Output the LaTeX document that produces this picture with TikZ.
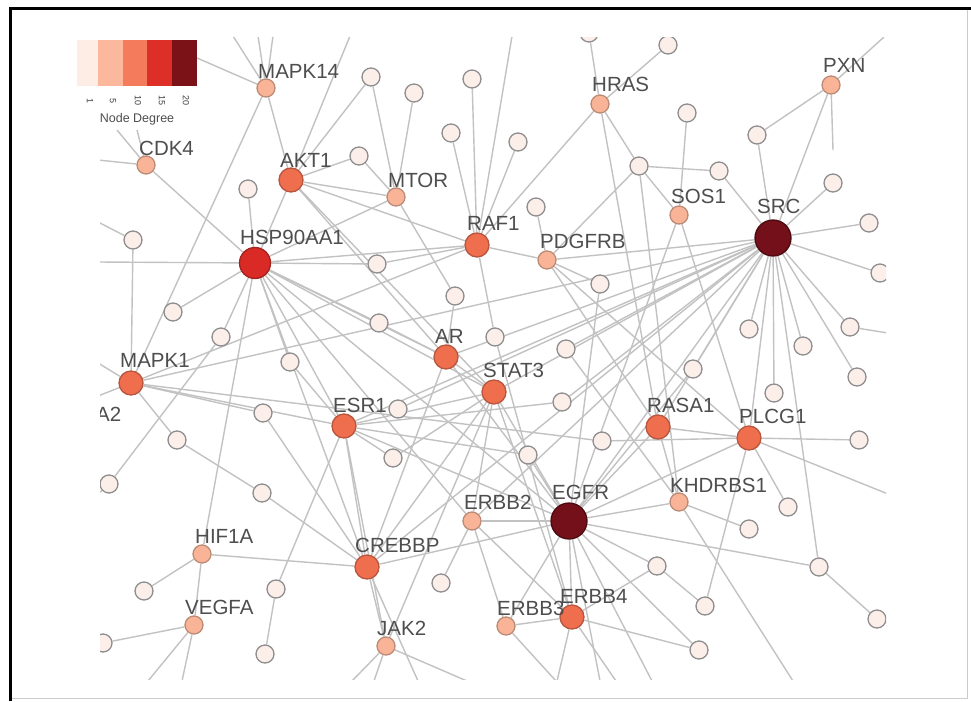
\documentclass[tikz,border=0pt]{standalone}
\usepackage{fontspec}
\setmainfont{Liberation Sans}
\usetikzlibrary{backgrounds}
\definecolor{edgec}{HTML}{C2C2C2}
\definecolor{cw}{HTML}{FCEFEA}
\definecolor{cwb}{HTML}{8E8E8E}
\definecolor{cs}{HTML}{F9B497}
\definecolor{csb}{HTML}{BC8B77}
\definecolor{co}{HTML}{EF6E4E}
\definecolor{cob}{HTML}{B8553F}
\definecolor{cr}{HTML}{DA2A25}
\definecolor{crb}{HTML}{A02320}
\definecolor{cd}{HTML}{741019}
\definecolor{cdb}{HTML}{4A0A0F}
\definecolor{lblc}{HTML}{4E4E4E}
\definecolor{legA}{HTML}{FDEDE5}
\definecolor{legB}{HTML}{FBB89D}
\definecolor{legC}{HTML}{F47B5B}
\definecolor{legD}{HTML}{DD2F28}
\definecolor{legE}{HTML}{7A1218}
\begin{document}
\begin{tikzpicture}[x=1pt,y=-1pt,
  edge/.style={draw=edgec, line width=1.4pt},
  nd/.style={circle, line width=1.3pt, inner sep=0pt},
  nodeW/.style={nd, minimum size=18pt, fill=cw, draw=cwb},
  nodeS/.style={nd, minimum size=18pt, fill=cs, draw=csb},
  nodeO/.style={nd, minimum size=24pt, fill=co, draw=cob},
  nodeR/.style={nd, minimum size=31pt, fill=cr, draw=crb},
  nodeD/.style={nd, minimum size=36pt, fill=cd, draw=cdb},
  lbl/.style={anchor=base west, inner sep=0pt, text=lblc, font=\fontsize{20.5}{22}\selectfont},
  tick/.style={rotate=-90, inner sep=0pt, text=darkgray, font=\fontsize{9}{10}\selectfont},
]
\useasboundingbox (0,0) rectangle (971,701);

\begin{scope}
\clip (100,38) rectangle (886,679);
% hub nodes
\node[nodeS] (mk14) at (266,88) {};
\node[nodeS] (cdk) at (146,165) {};
\node[nodeO] (akt) at (291,180) {};
\node[nodeS] (mtor) at (396,197) {};
\node[nodeR] (hsp) at (255,263) {};
\node[nodeO] (raf) at (477,245) {};
\node[nodeS] (pdg) at (547,260) {};
\node[nodeS] (hras) at (600,104) {};
\node[nodeS] (sos) at (679,215) {};
\node[nodeD] (src) at (773,238) {};
\node[nodeS] (pxn) at (831,85) {};
\node[nodeO] (ar) at (446,357) {};
\node[nodeO] (stat) at (494,392) {};
\node[nodeO] (mapk) at (131,383) {};
\node[nodeO] (esr) at (344,426) {};
\node[nodeO] (rasa) at (658,427) {};
\node[nodeO] (plcg) at (749,438) {};
\node[nodeS] (khd) at (679,502) {};
\node[nodeD] (egfr) at (569,521) {};
\node[nodeS] (eb2) at (472,521) {};
\node[nodeS] (hif) at (202,554) {};
\node[nodeO] (creb) at (367,567) {};
\node[nodeS] (vegfa) at (194,625) {};
\node[nodeO] (eb4) at (572,617) {};
\node[nodeS] (eb3) at (506,626) {};
\node[nodeS] (jak) at (386,646) {};
% small nodes
\foreach \n/\x/\y in {a1/371/77, a2/414/93, a3/472/79, a4/451/133, a5/518/142, a6/359/156,
  a7/536/207, a8/589/33, a9/668/45, a10/687/113, a11/639/166, a12/719/171, a13/757/135,
  a14/833/183, a15/869/223, a16/880/273, a17/248/189, a18/133/240, a19/377/264,
  a20/455/296, a21/600/284, a22/173/312, a23/221/337, a24/379/323, a25/495/337,
  a26/566/349, a27/290/362, a28/749/329, a29/803/346, a30/850/327, a31/857/377,
  a32/693/369, a33/774/393, a34/398/409, a35/562/402, a36/263/413, a37/177/440,
  a38/602/441, a39/859/440, a40/393/458, a41/528/455, a42/109/484, a43/262/493,
  a44/788/507, a45/749/529, a46/819/567, a47/657/566, a48/441/583, a49/144/591,
  a50/276/589, a51/705/606, a52/877/619, a53/699/650, a54/103/643, a55/265/654}
  {\node[nodeW] (\n) at (\x,\y) {};}
% free ends of cut connectors
\foreach \n/\x/\y in {s1/233/36, s2/258/36, s3/273/36, s4/197/58, s5/117/130, s6/137/130,
  s7/98/160, s8/350/36, s9/98/262, s10/512/36, s11/884/37, s12/833/150, s13/888/333,
  s14/98/363, s15/98/396, s16/888/494, s17/793/681, s18/600/681, s19/652/681,
  s20/148/681, s21/182/681, s22/418/681, s23/557/681, s24/616/681, s25/556/681,
  s26/352/681, s27/374/681, s28/467/681, s29/98/494, s30/98/222}
  {\coordinate (\n) at (\x,\y);}
% labels
\node[lbl] (lmk14) at (258,78) {MAPK14};
\node[lbl] (lcdk) at (139,155) {CDK4};
\node[lbl] (lakt) at (280,167) {AKT1};
\node[lbl] (lmtor) at (388,187) {MTOR};
\node[lbl] (lhsp) at (240,244) {HSP90AA1};
\node[lbl] (lraf) at (467,230) {RAF1};
\node[lbl] (lpdg) at (540,248) {PDGFRB};
\node[lbl] (lhras) at (592,92) {HRAS};
\node[lbl] (lsos) at (671,203) {SOS1};
\node[lbl] (lsrc) at (757,213) {SRC};
\node[lbl] (lpxn) at (823,73) {PXN};
\node[lbl] (lar) at (435,343) {AR};
\node[lbl] (lstat) at (483,377) {STAT3};
\node[lbl] (lmapk) at (120,367) {MAPK1};
\node[lbl] (latwo) at (96,421) {A2};
\node[lbl] (lesr) at (333,412) {ESR1};
\node[lbl] (lrasa) at (647,412) {RASA1};
\node[lbl] (lplcg) at (739,423) {PLCG1};
\node[lbl] (lkhd) at (670,492) {KHDRBS1};
\node[lbl] (legfr) at (552,499) {EGFR};
\node[lbl] (leb2) at (464,509) {ERBB2};
\node[lbl] (lcreb) at (355,552) {CREBBP};
\node[lbl] (lhif) at (195,543) {HIF1A};
\node[lbl] (lvegfa) at (185,614) {VEGFA};
\node[lbl] (leb4) at (560,603) {ERBB4};
\node[lbl] (leb3) at (497,615) {ERBB3};
\node[lbl] (ljak) at (377,635) {JAK2};
\end{scope}

\begin{pgfonlayer}{background}
\fill[white] (0,0) rectangle (971,701);
\begin{scope}
\clip (100,38) rectangle (886,679);
\foreach \a/\b in {mk14/s1, mk14/s2, mk14/s3, mk14/s4, mk14/akt, mk14/mapk,
  cdk/s5, cdk/s6, cdk/s7, cdk/hsp,
  akt/s8, akt/a1, akt/a6, akt/mtor, akt/raf, akt/hsp, akt/ar, akt/stat,
  mtor/a1, mtor/a2, mtor/a6, mtor/a20, mtor/hsp,
  hsp/a17, hsp/s9, hsp/a22, hsp/a23, hsp/a24, hsp/a27, hsp/a19, hsp/raf, hsp/hif,
  hsp/esr, hsp/creb, hsp/stat, hsp/ar, hsp/egfr, hsp/eb2,
  raf/a3, raf/a4, raf/a5, raf/s10, raf/hras, raf/pdg, raf/a19, raf/a25, raf/mapk,
  pdg/a7, pdg/a11, pdg/a21, pdg/src, pdg/rasa, pdg/plcg,
  hras/a8, hras/a9, hras/a11, hras/rasa,
  sos/a10, sos/a11, sos/egfr, sos/plcg, a11/a12,
  src/a12, src/a13, src/pxn, src/a14, src/a15, src/a16, src/a28, src/a29, src/a30,
  src/a31, src/a33, src/a32, src/a26, src/a34, src/a35, src/a46, src/plcg, src/rasa,
  src/egfr, src/stat, src/esr, src/ar, src/creb, src/eb2, src/mapk,
  pxn/a13, pxn/s11, pxn/s12, a30/s13,
  ar/a24, ar/a20, ar/stat, ar/creb, ar/egfr,
  stat/jak, stat/egfr, stat/eb2, stat/eb4, stat/creb, stat/esr, stat/a40,
  mapk/a18, mapk/a36, mapk/esr, mapk/a37, mapk/s14, mapk/s15, mapk/a38,
  esr/a35, esr/a50, esr/creb, esr/jak, esr/egfr, esr/a27, esr/a40, esr/a41,
  rasa/egfr, rasa/plcg, rasa/khd,
  plcg/a38, plcg/a39, plcg/a44, plcg/s16, plcg/egfr, plcg/a51,
  khd/a45, khd/egfr, khd/a11, khd/a26, khd/s17,
  egfr/eb2, egfr/creb, egfr/eb4, egfr/eb3, egfr/a21, egfr/a32, egfr/a41, egfr/a46,
  egfr/a47, egfr/a53, egfr/s18, egfr/s19,
  eb2/eb4, eb2/eb3, eb2/a48,
  hif/creb, hif/a49, hif/vegfa,
  vegfa/a54, vegfa/s20, vegfa/s21,
  creb/a43, creb/a36, creb/jak, creb/s22,
  eb4/eb3, eb4/a47, eb4/a53, eb4/s23, eb4/s24, eb4/a25,
  eb3/s25, jak/s26, jak/s27, jak/s28,
  a42/a23, a42/s29, a18/s30, a37/a43, a47/a51, a46/a52, a50/a55}
  {\draw[edge] (\a) -- (\b);}
\end{scope}
\end{pgfonlayer}

% frame
\draw[gray!40, line width=1pt] (11,698) -- (967,698) -- (967,10);
\draw[black, line width=3pt] (10,701) -- (10,9) -- (971,9);

% legend
\fill[legA] (77,40) rectangle (98,86);
\fill[legB] (98,40) rectangle (123,86);
\fill[legC] (123,40) rectangle (147,86);
\fill[legD] (147,40) rectangle (172,86);
\fill[legE] (172,40) rectangle (197,86);
\node[tick] (t1) at (90,101) {1};
\node[tick] (t5) at (113,101) {5};
\node[tick] (t10) at (138,101) {10};
\node[tick] (t15) at (162,101) {15};
\node[tick] (t20) at (186,101) {20};
\node[inner sep=0pt, text=lblc, font=\fontsize{12.5}{14}\selectfont] (ldeg) at (137,119) {Node Degree};
\end{tikzpicture}
\end{document}
